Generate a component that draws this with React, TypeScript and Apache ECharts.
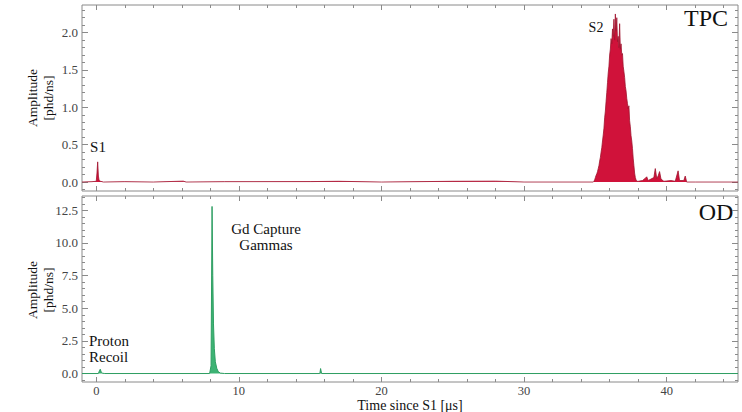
import React, { useEffect, useRef } from "react";
import * as echarts from "echarts";

// ---- Data ----
const xMajorTicks = [0, 10, 20, 30, 40];
const xMinorTicks = [2, 4, 6, 8, 12, 14, 16, 18, 22, 24, 26, 28, 32, 34, 36, 38, 42, 44];
const tpcMajorTicks = [0, 0.5, 1.0, 1.5, 2.0];
const tpcMinorTicks = [-0.1, 0.1, 0.2, 0.3, 0.4, 0.6, 0.7, 0.8, 0.9, 1.1, 1.2, 1.3, 1.4, 1.6, 1.7, 1.8, 1.9, 2.1, 2.2, 2.3];
const odMajorTicks = [0, 2.5, 5.0, 7.5, 10.0, 12.5];
const odMinorTicks = [-0.5, 0.5, 1.0, 1.5, 2.0, 3.0, 3.5, 4.0, 4.5, 5.5, 6.0, 6.5, 7.0, 8.0, 8.5, 9.0, 9.5, 10.5, 11.0, 11.5, 12.0, 13.0, 13.5];

// TPC waveform [time µs, amplitude phd/ns]
const tpcBaselineS1: number[][] = [
  [-1, 0], [-0.3, 0.005], [0.0, 0.01], [0.05, 0.12], [0.1, 0.27], [0.15, 0.08], [0.2, 0.02],
  [0.3, 0.01], [0.5, 0.0], [2, 0.005], [4, 0.0], [6.1, 0.012], [6.3, 0.0], [9, 0.005],
  [15, 0.006], [17, 0.01], [20, 0.0], [25, 0.01], [28, 0.012], [30, 0.0], [34.85, 0.0],
];
const tpcS2: number[][] = [
  [34.9, 0.01], [34.95, 0.03], [35.0, 0.06], [35.05, 0.09], [35.1, 0.11], [35.15, 0.14],
  [35.2, 0.18], [35.25, 0.22], [35.3, 0.28], [35.35, 0.33], [35.4, 0.4], [35.45, 0.46],
  [35.5, 0.55], [35.55, 0.63], [35.6, 0.72], [35.65, 0.86], [35.7, 0.95], [35.75, 1.08],
  [35.8, 1.2], [35.85, 1.33], [35.9, 1.46], [35.95, 1.55], [36.0, 1.7], [36.05, 1.78],
  [36.1, 1.92], [36.15, 1.85], [36.2, 2.05], [36.25, 1.95], [36.3, 2.18], [36.35, 1.9],
  [36.4, 2.25], [36.45, 2.02], [36.5, 2.2], [36.55, 1.88], [36.6, 1.95], [36.65, 1.8],
  [36.7, 2.12], [36.75, 1.78], [36.8, 1.85], [36.85, 1.7], [36.9, 1.72], [36.95, 1.55],
  [37.0, 1.48], [37.05, 1.4], [37.1, 1.28], [37.15, 1.22], [37.2, 1.12], [37.25, 1.05],
  [37.3, 0.98], [37.35, 1.02], [37.4, 0.82], [37.45, 0.74], [37.5, 0.62], [37.55, 0.55],
  [37.6, 0.45], [37.65, 0.32], [37.7, 0.22], [37.75, 0.12], [37.8, 0.06], [37.85, 0.03],
  [37.9, 0.01],
];
const tpcTail: number[][] = [
  [38.0, 0.01], [38.3, 0.02], [38.5, 0.05], [38.6, 0.07], [38.7, 0.02], [38.9, 0.04],
  [39.1, 0.06], [39.2, 0.18], [39.3, 0.05], [39.4, 0.08], [39.5, 0.14], [39.6, 0.04],
  [39.8, 0.01], [40.3, 0.02], [40.6, 0.01], [40.8, 0.15], [40.9, 0.02], [41.2, 0.02],
  [41.3, 0.08], [41.4, 0.0], [42, 0.0], [45, 0.0],
];

// OD waveform
const odWave: number[][] = [
  [-1, 0], [0.15, 0], [0.22, 0.2], [0.28, 0.33], [0.35, 0.1], [0.45, 0.02], [0.6, 0],
  [7.95, 0], [8.05, 0.6], [8.12, 12.8], [8.17, 7.5], [8.22, 3.8], [8.28, 1.9], [8.35, 0.9],
  [8.45, 0.4], [8.55, 0.15], [8.7, 0.03], [9, 0], [15.68, 0], [15.73, 0.38], [15.8, 0], [45, 0],
];

const FONT = "Liberation Serif";
const AXIS_GRAY = "#8a8a8a";
const LABEL_COLOR = "#444";

function xAxesFor(grid: number, showLabels: boolean) {
  const base = {
    gridIndex: grid, type: "value", min: -1, max: 45,
    axisLine: { show: false, onZero: false }, splitLine: { show: false },
  };
  return [
    {
      ...base, position: "bottom",
      axisTick: { inside: true, length: 5, customValues: xMajorTicks, lineStyle: { color: AXIS_GRAY } },
      axisLabel: {
        show: showLabels, customValues: xMajorTicks, margin: 2,
        fontFamily: FONT, fontSize: 12.5, color: LABEL_COLOR,
      },
    },
    {
      ...base, position: "bottom",
      axisTick: { inside: true, length: 3, customValues: xMinorTicks, lineStyle: { color: AXIS_GRAY } },
      axisLabel: { show: false },
    },
    {
      ...base, position: "top",
      axisTick: { inside: true, length: 5, customValues: xMajorTicks, lineStyle: { color: AXIS_GRAY } },
      axisLabel: { show: false },
    },
    {
      ...base, position: "top",
      axisTick: { inside: true, length: 3, customValues: xMinorTicks, lineStyle: { color: AXIS_GRAY } },
      axisLabel: { show: false },
    },
  ];
}

function yAxesFor(grid: number, min: number, max: number, major: number[], minor: number[]) {
  const base = {
    gridIndex: grid, type: "value", min, max,
    axisLine: { show: false, onZero: false }, splitLine: { show: false },
  };
  return [
    {
      ...base, position: "left",
      axisTick: { inside: true, length: 6, customValues: major, lineStyle: { color: AXIS_GRAY } },
      axisLabel: {
        customValues: major, margin: 4, fontFamily: FONT, fontSize: 13, color: LABEL_COLOR,
        formatter: (v: number) => v.toFixed(1),
      },
    },
    {
      ...base, position: "left",
      axisTick: { inside: true, length: 3, customValues: minor, lineStyle: { color: AXIS_GRAY } },
      axisLabel: { show: false },
    },
    {
      ...base, position: "right",
      axisTick: { inside: true, length: 6, customValues: major, lineStyle: { color: AXIS_GRAY } },
      axisLabel: { show: false },
    },
    {
      ...base, position: "right",
      axisTick: { inside: true, length: 3, customValues: minor, lineStyle: { color: AXIS_GRAY } },
      axisLabel: { show: false },
    },
  ];
}

export default function App() {
  const ref = useRef<HTMLDivElement>(null);
  useEffect(() => {
    if (!ref.current) return;
    const chart = echarts.init(ref.current, undefined, { renderer: "svg" });
    const tpcData = [...tpcBaselineS1, ...tpcS2, ...tpcTail];
    const text = (x: number, y: number, t: string, size: number, extra: any = {}) => ({
      type: "text", x, y,
      style: { text: t, fontFamily: FONT, fontSize: size, fill: "#111", ...extra },
    });
    chart.setOption({
      animation: false,
      backgroundColor: "#fff",
      grid: [
        { left: 82, right: 4, top: 5, height: 186, show: true, borderColor: AXIS_GRAY, borderWidth: 1, backgroundColor: "transparent" },
        { left: 82, right: 4, top: 196, height: 186, show: true, borderColor: AXIS_GRAY, borderWidth: 1, backgroundColor: "transparent" },
      ],
      xAxis: [...xAxesFor(0, false), ...xAxesFor(1, true)],
      yAxis: [
        ...yAxesFor(0, -0.12, 2.37, tpcMajorTicks, tpcMinorTicks),
        ...yAxesFor(1, -0.65, 13.6, odMajorTicks, odMinorTicks),
      ],
      series: [
        {
          type: "line", xAxisIndex: 0, yAxisIndex: 0, data: tpcData, showSymbol: false,
          lineStyle: { color: "#a0142e", width: 0.8 },
          areaStyle: { color: "#d0123a", opacity: 1 },
        },
        {
          type: "line", xAxisIndex: 4, yAxisIndex: 4, data: odWave, showSymbol: false,
          lineStyle: { color: "#2e9e62", width: 1 },
          areaStyle: { color: "#3db374", opacity: 1 },
        },
      ],
      graphic: [
        text(40, 98, "Amplitude\n[phd/ns]", 13.5, { align: "center", verticalAlign: "middle", lineHeight: 16 }),
        text(40, 290, "Amplitude\n[phd/ns]", 13.5, { align: "center", verticalAlign: "middle", lineHeight: 16 }),
        text(410, 405, "Time since S1 [μs]", 14, { align: "center", verticalAlign: "middle" }),
        text(98, 147, "S1", 15, { align: "center", verticalAlign: "middle" }),
        text(596, 27, "S2", 14, { align: "center", verticalAlign: "middle" }),
        text(706, 18, "TPC", 24, { align: "center", verticalAlign: "middle" }),
        text(716, 212, "OD", 24, { align: "center", verticalAlign: "middle" }),
        text(266, 237, "Gd Capture\nGammas", 15, { align: "center", verticalAlign: "middle", lineHeight: 16 }),
        text(89, 349, "Proton\nRecoil", 15, { align: "left", verticalAlign: "middle", lineHeight: 16 }),
      ].map((g: any) => {
        if (g.style.text.startsWith("Amplitude")) {
          return { ...g, rotation: Math.PI / 2 };
        }
        return g;
      }),
    });
    return () => chart.dispose();
  }, []);
  return <div ref={ref} style={{ width: 742, height: 412, position: "absolute", left: 0, top: 0 }} />;
}
